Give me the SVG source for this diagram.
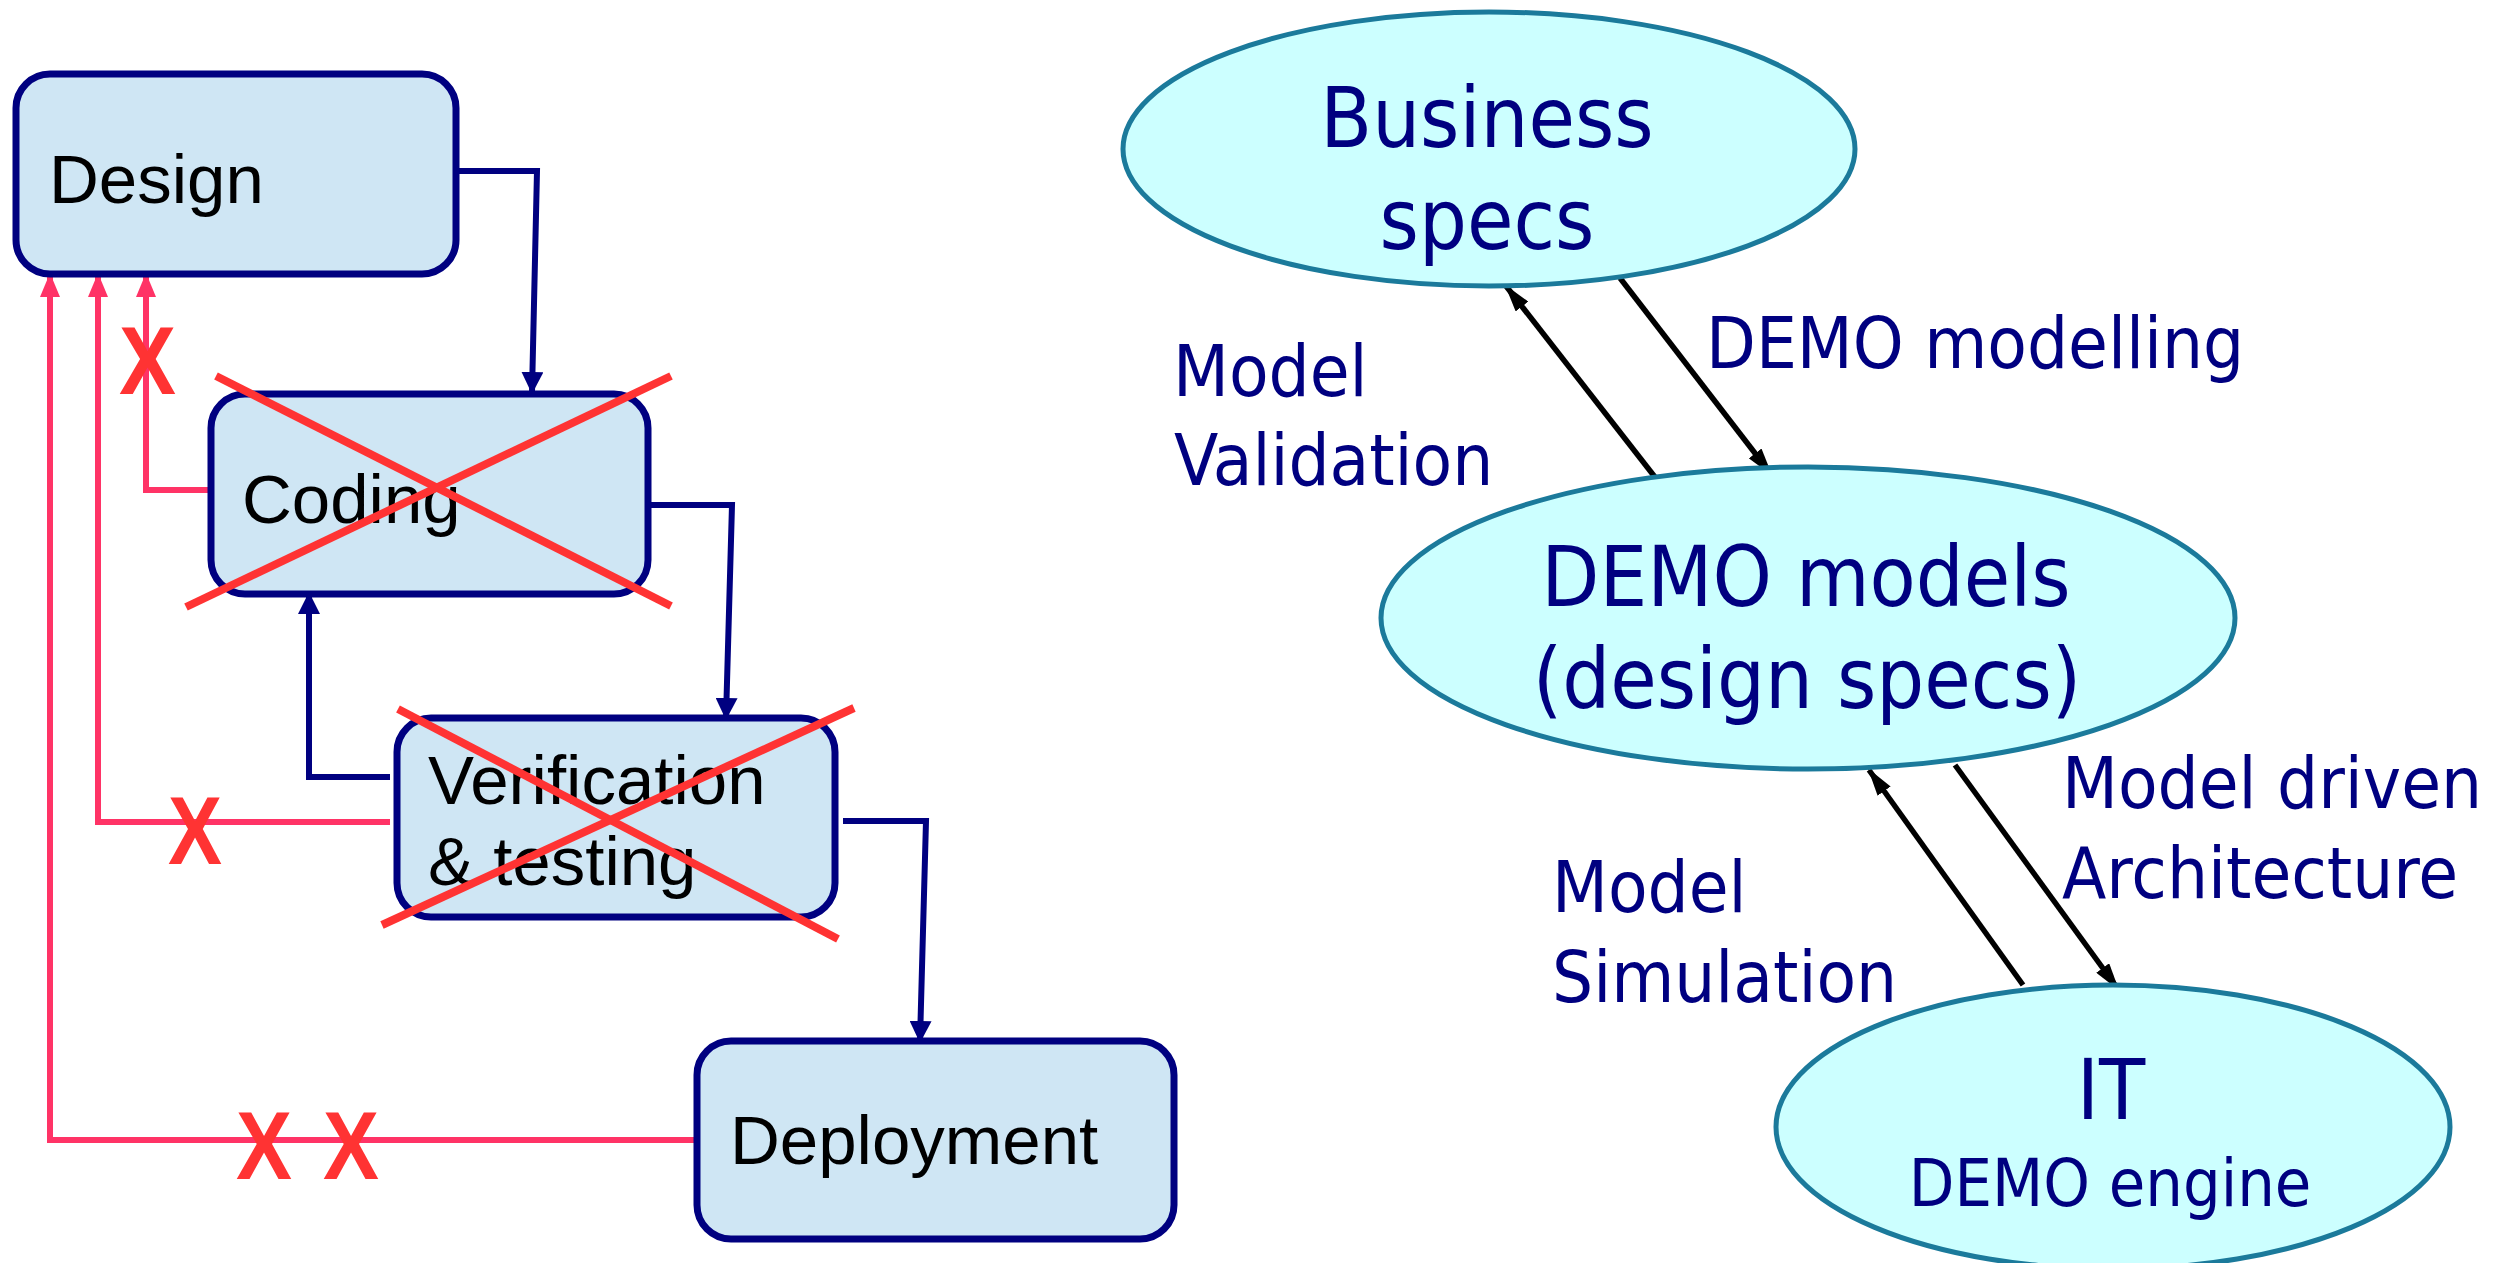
<svg xmlns="http://www.w3.org/2000/svg" width="2517" height="1263" viewBox="0 0 2517 1263">
<defs>
<marker id="navyArrow" markerUnits="userSpaceOnUse" markerWidth="22" markerHeight="22" refX="20" refY="11" orient="auto">
<path d="M0,0 L22,11 L0,22 z" fill="#000080"/>
</marker>
<marker id="redArrow" markerUnits="userSpaceOnUse" markerWidth="24" markerHeight="20" refX="22" refY="10" orient="auto">
<path d="M0,0 L24,10 L0,20 z" fill="#FF3366"/>
</marker>
<marker id="blackArrow" markerUnits="userSpaceOnUse" markerWidth="28" markerHeight="16" refX="26" refY="8" orient="auto">
<path d="M0,0 L28,8 L0,16 z" fill="#000000"/>
</marker>
</defs>
<style>
.box{fill:#CFE6F4;stroke:#000080;stroke-width:7}
.btxt{font-family:"Liberation Sans",Arial,sans-serif;font-size:69px;fill:#000000}
.navy{fill:none;stroke:#000080;stroke-width:6;marker-end:url(#navyArrow)}
.red{fill:none;stroke:#FF3366;stroke-width:6;marker-end:url(#redArrow)}
.strike{stroke:#FF3333;stroke-width:8}
.xm{font-family:"Liberation Sans",Arial,sans-serif;font-weight:bold;font-size:97px;fill:#FF3333}
.ell{fill:#CCFFFF;stroke:#1B7A9B;stroke-width:5}
.etxt{font-family:"DejaVu Sans Condensed","DejaVu Sans",sans-serif;fill:#000080;font-size:84px;text-anchor:middle}
.lbl{font-family:"DejaVu Sans Condensed","DejaVu Sans",sans-serif;fill:#000080;font-size:72px}
.blk{fill:none;stroke:#000000;stroke-width:5.5;marker-end:url(#blackArrow)}
</style>
<g id="connectors">
<path class="navy" d="M457,171 H537 L532,392"/>
<path class="navy" d="M650,505 H732 L726,718"/>
<path class="navy" d="M390,777 H309 V594"/>
<path class="navy" d="M843,821 H926 L920,1041"/>
<path class="red" d="M211,490 H146 V275"/>
<path class="red" d="M390,822 H98 V275"/>
<path class="red" d="M696,1140 H50 V275"/>
<line class="blk" x1="1658" y1="481" x2="1506" y2="286"/>
<line class="blk" x1="1620" y1="278" x2="1771" y2="474"/>
<line class="blk" x1="2023" y1="985" x2="1869" y2="770"/>
<line class="blk" x1="1955" y1="765" x2="2118" y2="989"/>
</g>
<g id="design">
<rect class="box" x="16" y="74" width="440" height="200" rx="34"/>
<text class="btxt" x="49" y="203">Design</text>
</g>
<g id="coding">
<rect class="box" x="211" y="394" width="437" height="200" rx="34"/>
<text class="btxt" x="242" y="523">Coding</text>
</g>
<g id="verification">
<rect class="box" x="397" y="718" width="438" height="199" rx="34"/>
<text class="btxt" x="428" y="804">Verification</text>
<text class="btxt" x="428" y="885">&amp; testing</text>
</g>
<g id="deployment">
<rect class="box" x="697" y="1041" width="477" height="198" rx="34"/>
<text class="btxt" x="730" y="1164">Deployment</text>
</g>
<g id="crosses">
<line class="strike" x1="216" y1="376" x2="671" y2="606"/>
<line class="strike" x1="186" y1="607" x2="671" y2="376"/>
<line class="strike" x1="398" y1="709" x2="838" y2="939"/>
<line class="strike" x1="382" y1="925" x2="854" y2="708"/>
<text class="xm" x="119" y="394" textLength="57" lengthAdjust="spacingAndGlyphs">X</text>
<text class="xm" x="168" y="864" textLength="54" lengthAdjust="spacingAndGlyphs">X</text>
<text class="xm" x="236" y="1179" textLength="56" lengthAdjust="spacingAndGlyphs">X</text>
<text class="xm" x="323" y="1179" textLength="56" lengthAdjust="spacingAndGlyphs">X</text>
</g>
<g id="business">
<ellipse class="ell" cx="1489" cy="149" rx="366" ry="137"/>
<text class="etxt" x="1487" y="147">Business</text>
<text class="etxt" x="1487" y="249">specs</text>
</g>
<g id="demo-models">
<ellipse class="ell" cx="1808" cy="618" rx="427" ry="151"/>
<text class="etxt" x="1806" y="606">DEMO models</text>
<text class="etxt" x="1807" y="708">(design specs)</text>
</g>
<g id="it">
<ellipse class="ell" cx="2113" cy="1127" rx="337" ry="142"/>
<text class="etxt" x="2111" y="1119">IT</text>
<text class="etxt" x="2110" y="1206" style="font-size:66px">DEMO engine</text>
</g>
<g id="labels">
<text class="lbl" x="1706" y="368">DEMO modelling</text>
<text class="lbl" x="1173" y="396">Model</text>
<text class="lbl" x="1174" y="485">Validation</text>
<text class="lbl" x="2062" y="808">Model driven</text>
<text class="lbl" x="2062" y="898">Architecture</text>
<text class="lbl" x="1552" y="912">Model</text>
<text class="lbl" x="1552" y="1002">Simulation</text>
</g>
</svg>
